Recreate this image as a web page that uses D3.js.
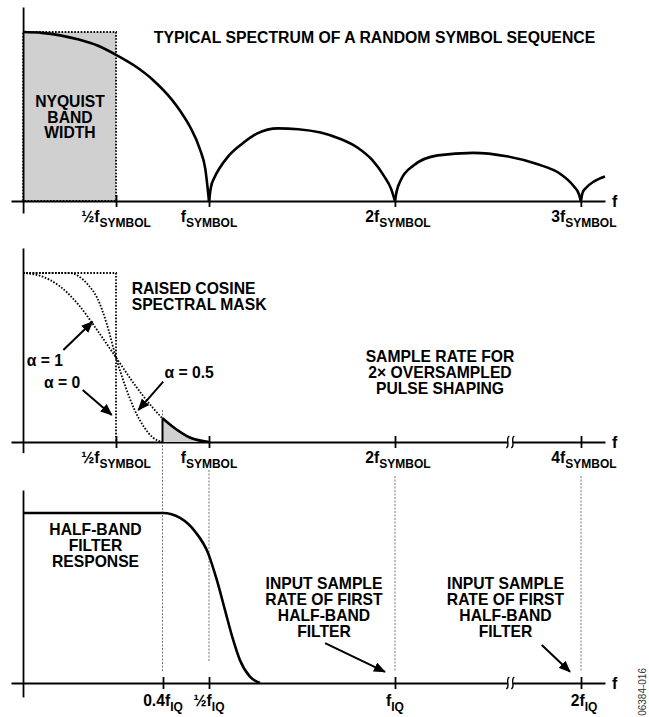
<!DOCTYPE html>
<html><head><meta charset="utf-8">
<script src="https://cdn.jsdelivr.net/npm/d3@7"></script>
<style>
body{margin:0;background:#fff}
svg{display:block}
text{font-family:"Liberation Sans",Arial,sans-serif;font-weight:bold;fill:#000}
</style>
</head><body>
<svg id="c" width="649" height="717"></svg>
<script>
// ---------- DATA ----------
// Top panel: spectrum lobes, frequency in units of f_SYMBOL, amplitude normalised to the main-lobe peak
const lobe1F = [0, 0.1, 0.2, 0.3, 0.4, 0.5, 0.6, 0.7, 0.8, 0.85, 0.9, 0.95, 0.98, 1.0];
const lobe1A = [1.0, 0.995, 0.98, 0.955, 0.92, 0.865, 0.80, 0.715, 0.60, 0.525, 0.435, 0.31, 0.19, 0];
const lobe2F = [1, 1.01, 1.03, 1.06, 1.1, 1.18, 1.26, 1.37, 1.48, 1.6, 1.7, 1.8, 1.88, 1.94, 1.98, 2];
const lobe2A = [0, 0.08, 0.14, 0.2, 0.26, 0.34, 0.40, 0.43, 0.425, 0.405, 0.37, 0.315, 0.24, 0.15, 0.07, 0];
const lobe3F = [2, 2.01, 2.03, 2.1, 2.23, 2.42, 2.6, 2.76, 2.89, 2.96, 2.99, 3];
const lobe3A = [0, 0.06, 0.12, 0.21, 0.27, 0.285, 0.265, 0.22, 0.16, 0.09, 0.04, 0];
const lobe4F = [3, 3.01, 3.03, 3.07, 3.13];
const lobe4A = [0, 0.05, 0.08, 0.115, 0.145];
const nyquistBand = [0, 0.5];
const topTickVals = [0.5, 1, 2, 3];
const topTickMain = ["\u00BDf", "f", "2f", "3f"];
const topTickSub = ["SYMBOL", "SYMBOL", "SYMBOL", "SYMBOL"];

// Middle panel: raised cosine masks
const rc1F = [0, 0.1, 0.2, 0.3, 0.4, 0.5, 0.6, 0.7, 0.75, 0.8, 0.9, 1];
const rc1A = [1, 0.98, 0.92, 0.81, 0.66, 0.5, 0.34, 0.2, 0.14, 0.095, 0.025, 0];
const rc05F = [0, 0.25, 0.3, 0.35, 0.4, 0.45, 0.5, 0.55, 0.6, 0.65, 0.7, 0.75];
const rc05A = [1, 1, 0.98, 0.93, 0.85, 0.7, 0.5, 0.33, 0.19, 0.09, 0.025, 0];
const rc0F = [0, 0.5, 0.5];
const rc0A = [1, 1, 0];
const shadeFrom = 0.75;
const midTickVals = [0.5, 1, 2, 4];
const midTickMain = ["\u00BDf", "f", "2f", "4f"];
const midTickSub = ["SYMBOL", "SYMBOL", "SYMBOL", "SYMBOL"];
const midBreak = 3.24;

// Bottom panel: half-band filter response, frequency in units of f_IQ
const hbF = [0, 0.4, 0.437, 0.47, 0.498, 0.521, 0.543, 0.565, 0.583, 0.61, 0.637];
const hbA = [1, 1, 0.971, 0.89, 0.764, 0.606, 0.429, 0.253, 0.135, 0.037, 0];
const botTickVals = [0.4, 0.5, 1, 2];
const botTickMain = ["0.4f", "\u00BDf", "f", "2f"];
const botTickSub = ["IQ", "IQ", "IQ", "IQ"];
const botBreak = 1.62;

// ---------- SCALES ----------
const svg = d3.select("#c");
const xTop = d3.scaleLinear().domain([-0.065, 3.13]).range([11, 605]);
const yTop = d3.scaleLinear().domain([0, 1]).range([201, 32]);
const xMid = d3.scaleLinear().domain([-0.065, 0, 2, 4, 4.26]).range([11, 23, 395, 581, 605]);
const yMid = d3.scaleLinear().domain([0, 1]).range([442, 273]);
const xBot = d3.scaleLinear().domain([-0.034, 0, 0.4, 0.5, 1, 2, 2.129]).range([11, 23, 163, 209, 395, 581, 605]);
const yBot = d3.scaleLinear().domain([0, 1]).range([683, 513]);

const FS = 15.7;
const lineGen = (x, y, c) => d3.line().x(d => x(d[0])).y(d => y(d[1])).curve(c || d3.curveMonotoneX);

function block(x, y, lines, lh, anchor) {
  const t = svg.append("text").attr("x", x).attr("y", y).attr("font-size", FS)
    .attr("text-anchor", anchor || "middle");
  lines.forEach((s, i) => t.append("tspan").attr("x", x).attr("dy", i === 0 ? 0 : lh).text(s));
  return t;
}

// arrow marker
svg.append("defs").append("marker")
  .attr("id", "ah").attr("viewBox", "0 0 12 10").attr("refX", 11).attr("refY", 5)
  .attr("markerWidth", 12).attr("markerHeight", 10).attr("markerUnits", "userSpaceOnUse")
  .attr("orient", "auto")
  .append("path").attr("d", "M0,0 L12,5 L0,10 Z").attr("fill", "#000");

// ---------- gray guide lines ----------
const guides = [
  {x: xMid(0.75), y1: 410, y2: 672},
  {x: xMid(1), y1: 470, y2: 662},
  {x: xMid(2), y1: 476, y2: 671},
  {x: xMid(4), y1: 476, y2: 671}
];
svg.append("g").selectAll("line").data(guides).join("line")
  .attr("x1", d => d.x).attr("x2", d => d.x).attr("y1", d => d.y1).attr("y2", d => d.y2)
  .attr("stroke", "#777").attr("stroke-width", 1).attr("stroke-dasharray", "2,1.5");

// ---------- TOP PANEL ----------
svg.append("rect")
  .attr("x", xTop(nyquistBand[0])).attr("y", yTop(1))
  .attr("width", xTop(nyquistBand[1]) - xTop(nyquistBand[0])).attr("height", yTop(0) - yTop(1))
  .attr("fill", "#d0d0d0").attr("stroke", "#000").attr("stroke-width", 1.8).attr("stroke-dasharray", "1.6,1.6");

// ---------- AXES ----------
const panels = [
  {x: xTop, y: yTop, yExt: [-0.071, 1.148], ticks: topTickVals, main: topTickMain, sub: topTickSub, ldy: 21, brk: null},
  {x: xMid, y: yMid, yExt: [-0.063, 1.148], ticks: midTickVals, main: midTickMain, sub: midTickSub, ldy: 21, brk: midBreak},
  {x: xBot, y: yBot, yExt: [-0.082, 1.135], ticks: botTickVals, main: botTickMain, sub: botTickSub, ldy: 23, brk: botBreak}
];
panels.forEach(p => {
  const g = svg.append("g");
  const ax = g.append("g").attr("transform", `translate(0,${p.y(0)})`)
    .call(d3.axisBottom(p.x).tickValues(p.ticks).tickSizeInner(6).tickSizeOuter(0).tickFormat(() => ""));
  ax.select(".domain").attr("stroke", "#000").attr("stroke-width", 1.8);
  ax.selectAll(".tick line").attr("y1", -6).attr("y2", 6).attr("stroke", "#000").attr("stroke-width", 1.8);
  const ys = d3.scaleLinear().domain(p.yExt).range(p.yExt.map(p.y));
  const ay = g.append("g").attr("transform", `translate(${p.x(0)},0)`)
    .call(d3.axisLeft(ys).tickValues([]).tickSizeOuter(0));
  ay.select(".domain").attr("stroke", "#000").attr("stroke-width", 1.8);
  // tick labels
  p.ticks.forEach((v, i) => {
    const t = g.append("text").attr("x", p.x(v) + (v >= 2 ? 3 : 0)).attr("y", p.y(0) + p.ldy)
      .attr("text-anchor", "middle").attr("font-size", FS);
    t.append("tspan").text(p.main[i]);
    t.append("tspan").attr("font-size", 12).attr("dy", 4.5).text(p.sub[i]);
  });
  // axis name
  g.append("text").attr("x", 612).attr("y", p.y(0) + 6).attr("font-size", 16).text("f");
  // break symbol
  if (p.brk !== null) {
    const bx = p.x(p.brk), by = p.y(0);
    g.append("rect").attr("x", bx - 2.5).attr("y", by - 2).attr("width", 5).attr("height", 4).attr("fill", "#fff");
    [-2.5, 2.5].forEach(dx => {
      g.append("path")
        .attr("d", `M${bx + dx + 1.5},${by - 6} C${bx + dx - 3},${by - 3} ${bx + dx + 3},${by + 3} ${bx + dx - 1.5},${by + 6}`)
        .attr("fill", "none").attr("stroke", "#000").attr("stroke-width", 1.4);
    });
  }
});

// ---------- TOP CURVES ----------
[[lobe1F, lobe1A], [lobe2F, lobe2A], [lobe3F, lobe3A], [lobe4F, lobe4A]].forEach(([f, a]) => {
  svg.append("path").datum(d3.zip(f, a)).attr("d", lineGen(xTop, yTop))
    .attr("fill", "none").attr("stroke", "#000").attr("stroke-width", 2.6);
});
svg.append("text").attr("x", 374.5).attr("y", 43).attr("text-anchor", "middle").attr("font-size", 15.8)
  .text("TYPICAL SPECTRUM OF A RANDOM SYMBOL SEQUENCE");
block(70, 107, ["NYQUIST", "BAND", "WIDTH"], 15.5);

// ---------- MIDDLE CURVES ----------
const shadePts = d3.zip(rc1F, rc1A).filter(d => d[0] >= shadeFrom);
svg.append("path").datum(shadePts)
  .attr("d", d3.area().x(d => xMid(d[0])).y0(yMid(0)).y1(d => yMid(d[1])).curve(d3.curveMonotoneX))
  .attr("fill", "#d0d0d0");
[[rc1F, rc1A], [rc05F, rc05A]].forEach(([f, a]) => {
  svg.append("path").datum(d3.zip(f, a)).attr("d", lineGen(xMid, yMid))
    .attr("fill", "none").attr("stroke", "#000").attr("stroke-width", 1.8).attr("stroke-dasharray", "1.6,1.6");
});
svg.append("path").datum(d3.zip(rc0F, rc0A)).attr("d", lineGen(xMid, yMid, d3.curveLinear))
  .attr("fill", "none").attr("stroke", "#000").attr("stroke-width", 1.8).attr("stroke-dasharray", "1.6,1.6");
svg.append("path").datum(shadePts).attr("d", lineGen(xMid, yMid))
  .attr("fill", "none").attr("stroke", "#000").attr("stroke-width", 2.6);
svg.append("line").attr("x1", xMid(shadeFrom)).attr("x2", xMid(shadeFrom))
  .attr("y1", yMid(0)).attr("y2", yMid(shadePts[0][1]))
  .attr("stroke", "#000").attr("stroke-width", 2);

block(131.7, 293.9, ["RAISED COSINE", "SPECTRAL MASK"], 15.7, "start");
block(440, 362.3, ["SAMPLE RATE FOR", "2\u00D7 OVERSAMPLED", "PULSE SHAPING"], 15.9);
const alphaLabels = [
  {t: "\u03B1 = 1", x: 26.7, y: 366},
  {t: "\u03B1 = 0", x: 44, y: 387.7},
  {t: "\u03B1 = 0.5", x: 164.5, y: 377.7}
];
alphaLabels.forEach(d => svg.append("text").attr("x", d.x).attr("y", d.y).attr("font-size", FS).text(d.t));

const midArrows = [
  {f0: 0.217, a0: 0.544, f1: 0.374, a1: 0.712},
  {f0: 0.321, a0: 0.308, f1: 0.477, a1: 0.160},
  {f0: 0.754, a0: 0.357, f1: 0.62, a1: 0.189}
];
midArrows.forEach(d => svg.append("line")
  .attr("x1", xMid(d.f0)).attr("y1", yMid(d.a0)).attr("x2", xMid(d.f1)).attr("y2", yMid(d.a1))
  .attr("stroke", "#000").attr("stroke-width", 2).attr("marker-end", "url(#ah)"));

// ---------- BOTTOM CURVE ----------
svg.append("path").datum(d3.zip(hbF, hbA)).attr("d", lineGen(xBot, yBot))
  .attr("fill", "none").attr("stroke", "#000").attr("stroke-width", 2.6);
block(95.5, 535, ["HALF-BAND", "FILTER", "RESPONSE"], 15.8);
[324, 505.5].forEach(cx => block(cx, 589.3, ["INPUT SAMPLE", "RATE OF FIRST", "HALF-BAND", "FILTER"], 15.8));
const botArrows = [
  {f0: 0.812, a0: 0.234, f1: 0.973, a1: 0.066},
  {f0: 1.789, a0: 0.224, f1: 1.941, a1: 0.066}
];
botArrows.forEach(d => svg.append("line")
  .attr("x1", xBot(d.f0)).attr("y1", yBot(d.a0)).attr("x2", xBot(d.f1)).attr("y2", yBot(d.a1))
  .attr("stroke", "#000").attr("stroke-width", 2).attr("marker-end", "url(#ah)"));

// figure code
svg.append("text").attr("transform", "translate(646,668) rotate(-90)")
  .attr("text-anchor", "end").attr("font-size", 10)
  .style("font-weight", "normal").style("fill", "#333").text("06384-016");
</script>
</body></html>
